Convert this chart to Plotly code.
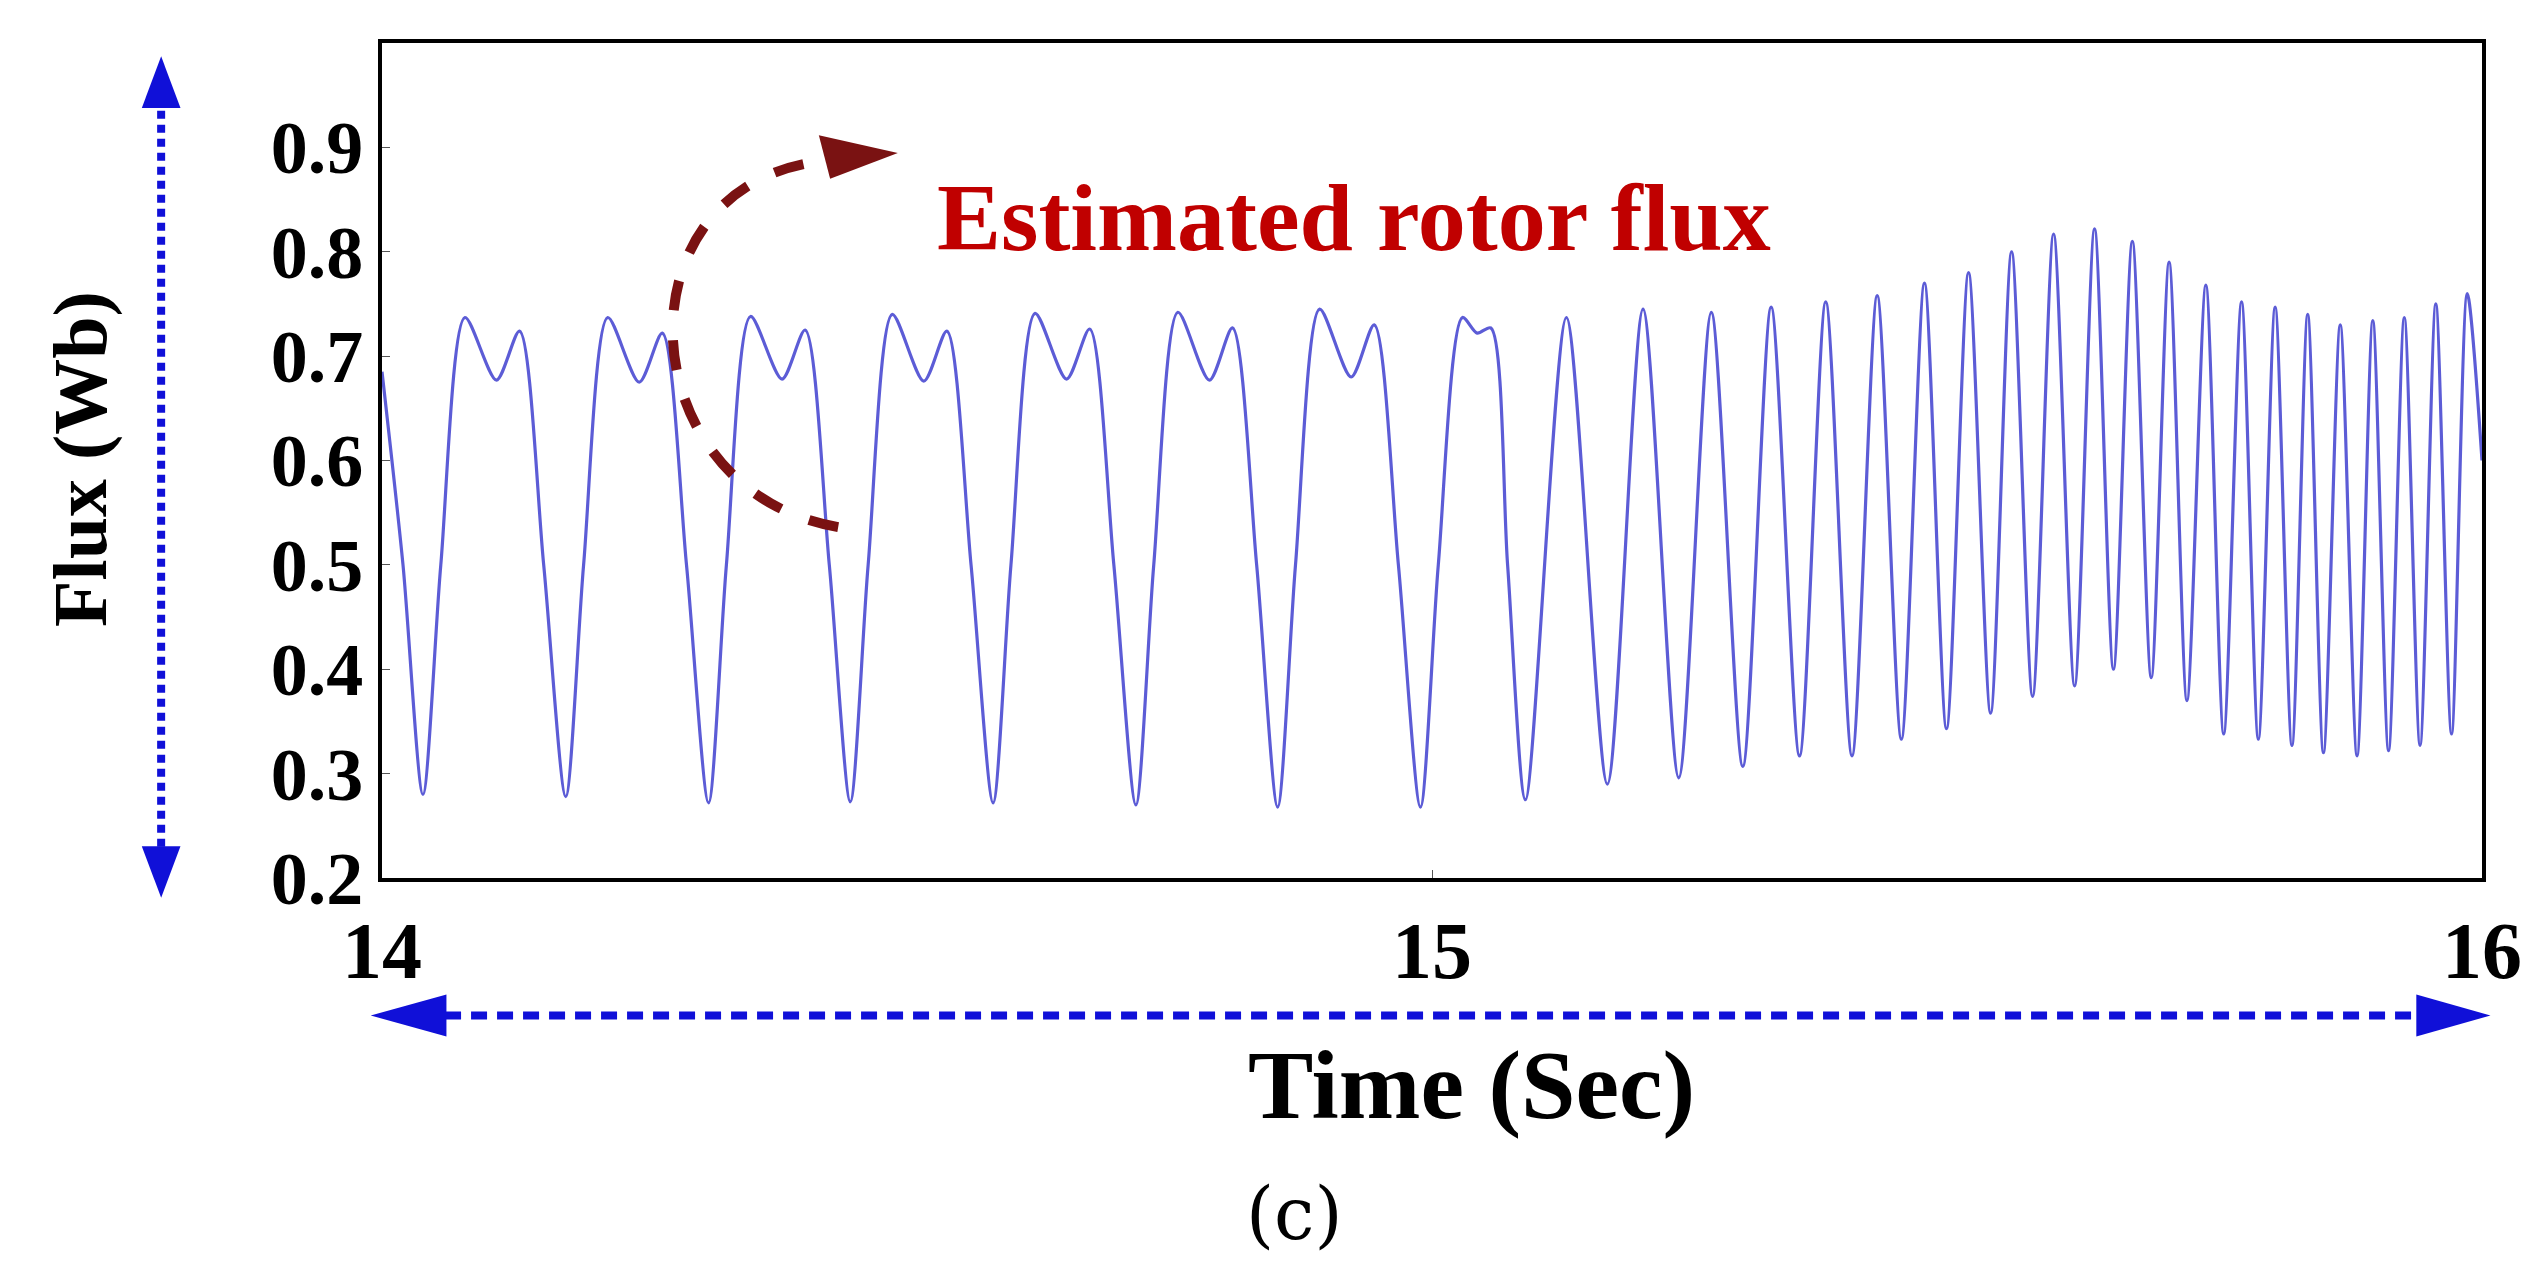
import plotly.graph_objects as go

# ---- data ----
time_s = [14.000, 14.020, 14.039,
          14.056, 14.079, 14.109, 14.131, 14.154, 14.175,
          14.192, 14.215, 14.245, 14.267, 14.290, 14.311,
          14.328, 14.351, 14.381, 14.403, 14.426, 14.446,
          14.463, 14.486, 14.516, 14.538, 14.561, 14.582,
          14.599, 14.622, 14.652, 14.674, 14.697, 14.718,
          14.735, 14.758, 14.788, 14.810, 14.833, 14.853,
          14.870, 14.893, 14.923, 14.945, 14.968, 14.989,
          15.006, 15.029, 15.043, 15.056, 15.072, 15.089,
          15.128, 15.167, 15.201, 15.235, 15.266, 15.296, 15.323, 15.350,
          15.375, 15.400, 15.424, 15.447, 15.469, 15.490, 15.511, 15.532,
          15.552, 15.572, 15.592, 15.612, 15.631, 15.649, 15.667, 15.685,
          15.702, 15.719, 15.737, 15.754, 15.771, 15.787, 15.803, 15.819,
          15.834, 15.849, 15.865, 15.881, 15.896, 15.911, 15.926, 15.941,
          15.956, 15.971, 15.986, 16.000]
flux_wb = [0.685, 0.50, 0.280,
           0.50, 0.737, 0.677, 0.724, 0.50, 0.278,
           0.50, 0.737, 0.675, 0.722, 0.50, 0.272,
           0.50, 0.738, 0.678, 0.725, 0.50, 0.273,
           0.50, 0.740, 0.676, 0.724, 0.50, 0.272,
           0.50, 0.741, 0.678, 0.726, 0.50, 0.270,
           0.50, 0.742, 0.677, 0.727, 0.50, 0.268,
           0.50, 0.745, 0.680, 0.730, 0.50, 0.268,
           0.50, 0.737, 0.722, 0.727, 0.50, 0.275,
           0.737, 0.290, 0.745, 0.296, 0.742, 0.307, 0.747, 0.317,
           0.752, 0.317, 0.758, 0.333, 0.770, 0.343, 0.780, 0.358,
           0.800, 0.374, 0.817, 0.384, 0.822, 0.400, 0.810, 0.392,
           0.790, 0.370, 0.768, 0.338, 0.752, 0.333, 0.747, 0.327,
           0.740, 0.320, 0.730, 0.317, 0.734, 0.322, 0.737, 0.327,
           0.750, 0.338, 0.760, 0.600]
y_ticks = [0.2, 0.3, 0.4, 0.5, 0.6, 0.7, 0.8, 0.9]
x_ticks = [14, 15, 16]

W, H = 2528, 1269
L, R, T, B = 374, 54, 35, 399
PW, PH = W - L - R, H - T - B
S = 1.612  # reference display -> pixel scale

def px(xd):
    return (xd * S - L) / PW

def py(yd):
    return (H - B - yd * S) / PH

FONT = "Liberation Serif"
BLUE = "#1010d8"
DRED = "#7a1212"

fig = go.Figure()
fig.add_trace(go.Scatter(x=time_s, y=flux_wb, mode="lines",
                         line=dict(color="#5c5cd6", width=3.2, shape="spline", smoothing=0.8),
                         showlegend=False))

shapes = []
shapes.append(dict(type="line", xref="paper", yref="paper", x0=px(95), x1=px(95), y0=py(55), y1=py(528),
                   line=dict(color=BLUE, width=8, dash="8px,6px")))
for tip, base in [(30, 62), (552, 520)]:
    shapes.append(dict(type="path", xref="paper", yref="paper", fillcolor=BLUE, line=dict(width=0),
                       path=f"M {px(95)} {py(tip)} L {px(83)} {py(base)} L {px(107)} {py(base)} Z"))
shapes.append(dict(type="line", xref="paper", yref="paper", x0=px(255), x1=px(1510), y0=py(625), y1=py(625),
                   line=dict(color=BLUE, width=8, dash="16px,10px")))
for tip, base in [(225, 272), (1540, 1494)]:
    shapes.append(dict(type="path", xref="paper", yref="paper", fillcolor=BLUE, line=dict(width=0),
                       path=f"M {px(tip)} {py(625)} L {px(base)} {py(612)} L {px(base)} {py(638)} Z"))
p0, p1, p2, p3 = (515, 322), (385, 300), (375, 110), (505, 95)
shapes.append(dict(type="path", xref="paper", yref="paper", line=dict(color=DRED, width=10, dash="dash"),
                   path=f"M {px(p0[0])} {py(p0[1])} C {px(p1[0])} {py(p1[1])} {px(p2[0])} {py(p2[1])} {px(p3[0])} {py(p3[1])}"))
shapes.append(dict(type="path", xref="paper", yref="paper", fillcolor=DRED, line=dict(width=0),
                   path=f"M {px(552)} {py(90)} L {px(503)} {py(79)} L {px(510)} {py(106)} Z"))

def ann(text, xd, yd, size, color="black", family=FONT, angle=0):
    return dict(text=text, xref="paper", yref="paper", x=px(xd), y=py(yd), xanchor="center",
                yanchor="middle", textangle=angle, showarrow=False,
                font=dict(family=family, size=size, color=color))

annotations = [
    ann("<b>Estimated rotor flux</b>", 835, 130, 96, "#c00000"),
    ann("<b>Time (Sec)</b>", 908, 668, 98),
    ann("<b>Flux (Wb)</b>", 45, 280, 76, angle=-90),
    ann("(c)", 798, 748, 72, family="DejaVu Serif"),
]

fig.update_layout(
    width=W, height=H, margin=dict(l=L, r=R, t=T, b=B),
    paper_bgcolor="white", plot_bgcolor="white",
    shapes=shapes, annotations=annotations,
    font=dict(family=FONT, color="black"),
    xaxis=dict(range=[14, 16], tickvals=x_ticks, ticktext=["<b>14</b>", "<b>15</b>", "<b>16</b>"],
               tickfont=dict(size=80, family=FONT), ticks="inside", ticklen=8, tickcolor="#555",
               showgrid=False, zeroline=False, showline=True, linecolor="black", linewidth=4, mirror=True),
    yaxis=dict(range=[0.2, 1.0], tickvals=y_ticks, ticktext=[f"<b>{v:.1f}</b>" for v in y_ticks],
               tickfont=dict(size=74, family=FONT), ticks="inside", ticklen=8, tickcolor="#555",
               showgrid=False, zeroline=False, showline=True, linecolor="black", linewidth=4, mirror=True),
)
fig.write_html("out.html")
